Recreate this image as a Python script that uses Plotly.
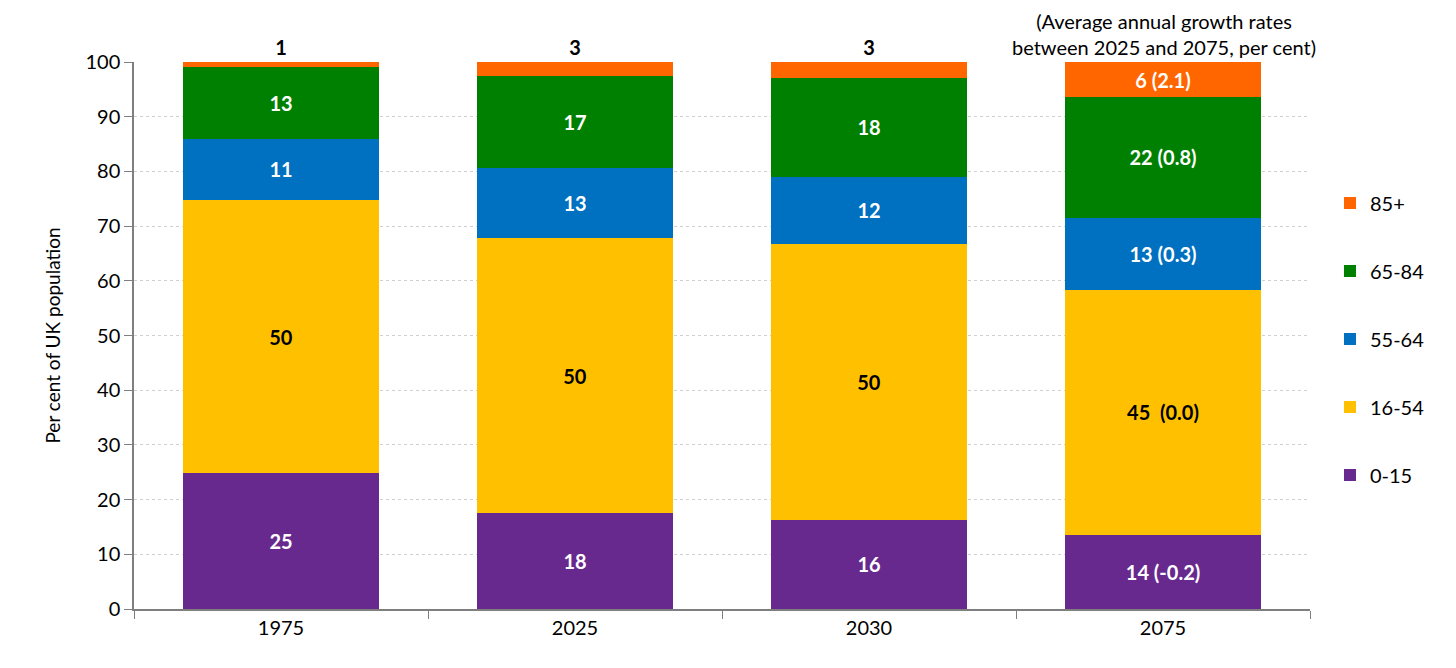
import plotly.graph_objects as go

years = ["1975", "2025", "2030", "2075"]
groups = ["0-15", "16-54", "55-64", "65-84", "85+"]
vals_0_15 = [24.8, 17.5, 16.3, 13.6]
vals_16_54 = [50.0, 50.3, 50.5, 44.8]
vals_55_64 = [11.1, 12.9, 12.2, 13.1]
vals_65_84 = [13.2, 16.7, 18.1, 22.1]
vals_85 = [0.9, 2.6, 2.9, 6.4]
growth = {"0-15": "(-0.2)", "16-54": " (0.0)", "55-64": "(0.3)", "65-84": "(0.8)", "85+": "(2.1)"}
colors = {"0-15": "#68298F", "16-54": "#FFC000", "55-64": "#0070C0", "65-84": "#008000", "85+": "#FF6600"}
label_col = {"0-15": "white", "16-54": "black", "55-64": "white", "65-84": "white", "85+": "white"}

series = {"0-15": vals_0_15, "16-54": vals_16_54, "55-64": vals_55_64, "65-84": vals_65_84, "85+": vals_85}

FONT = "Lato"
fig = go.Figure()
for k, g in enumerate(groups):
    v = series[g]
    texts = []
    for i, y in enumerate(years):
        t = str(int(round(v[i])))
        if y == "2075":
            t = t + " " + growth[g]
        texts.append(t)
    if g == "85+":
        pos = ["outside", "outside", "outside", "inside"]
        tcol = ["black", "black", "black", "white"]
    else:
        pos = "inside"
        tcol = label_col[g]
    fig.add_trace(go.Bar(
        x=years, y=v, name=g, marker=dict(color=colors[g], line=dict(width=0)),
        text=texts, textposition=pos, insidetextanchor="middle",
        textfont=dict(color=tcol, size=20, family=FONT, weight="bold"),
        outsidetextfont=dict(color="black", size=20, family=FONT, weight="bold"),
        insidetextfont=dict(color=tcol, size=20, family=FONT, weight="bold"),
        cliponaxis=False, legendgroup=g, legendrank=10 - k, hoverinfo="skip",
    ))

fig.update_layout(
    barmode="stack", bargap=0.335, width=1456, height=668,
    plot_bgcolor="white", paper_bgcolor="white",
    margin=dict(l=126, r=154, t=54, b=67),
    font=dict(family=FONT, size=20, color="black"),
    uniformtext=dict(minsize=20, mode="show"),
    legend=dict(x=1.017, xanchor="left", y=0.778, yanchor="top", traceorder="grouped",
                tracegroupgap=39, font=dict(size=20), itemwidth=30),
    showlegend=True,
)
fig.update_yaxes(range=[0, 100], dtick=10, showgrid=True, gridcolor="#d0d0d0", griddash="dot",
                 showline=True, linecolor="#7f7f7f", linewidth=1.5, ticks="outside", ticklen=8,
                 tickcolor="#7f7f7f", tickfont=dict(size=20), zeroline=False,
                 title=dict(text="Per cent of UK population", font=dict(size=19), standoff=20))
fig.update_xaxes(showline=True, linecolor="#7f7f7f", linewidth=1.5, ticks="outside", ticklen=8,
                 tickcolor="#7f7f7f", tickson="boundaries", tickfont=dict(size=20))

fig.add_annotation(text="(Average annual growth rates<br>between 2025 and 2075, per cent)",
                   xref="paper", yref="paper", x=0.876, y=1.0, yanchor="bottom", xanchor="center",
                   showarrow=False, font=dict(size=20), align="center", yshift=1)

fig.write_html("out.html")
